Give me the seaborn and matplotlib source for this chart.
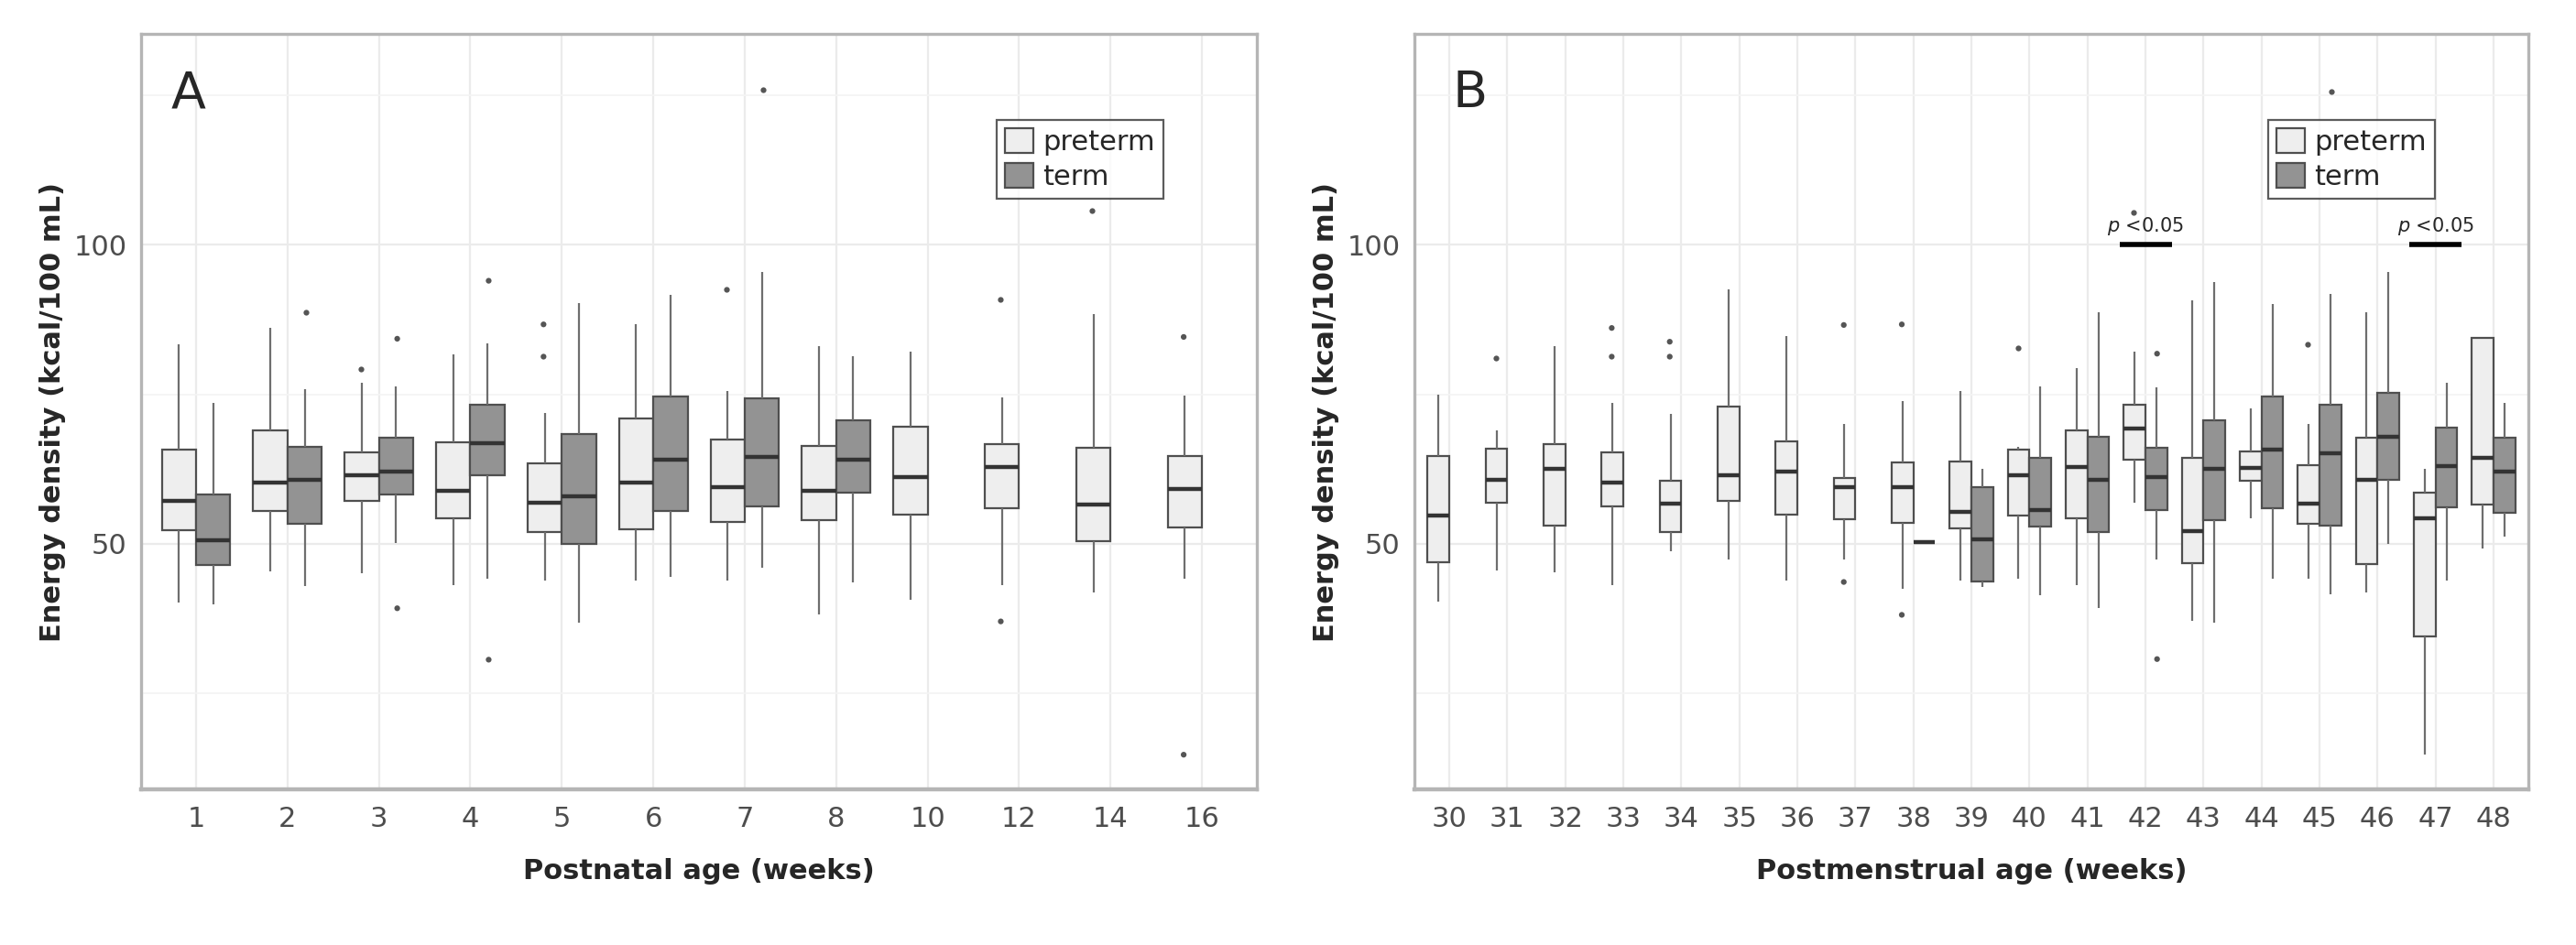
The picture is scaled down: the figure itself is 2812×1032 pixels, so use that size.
"""
Energy density of milk samples by age, preterm vs term.
Two panels of grouped box plots: (A) postnatal age, (B) postmenstrual age.
"""

import pandas as pd
import seaborn as sns
import matplotlib.pyplot as plt

GROUPS = ["preterm", "term"]

# Panel A: postnatal age (weeks); five-number summaries (min, q1, median, q3, max)
A_WEEKS = ["1", "2", "3", "4", "5", "6", "7", "8", "10", "12", "14", "16"]
A_PRETERM = [
    (40.1, 52.3, 57.1, 65.8, 83.3),
    (45.3, 55.5, 60.3, 69.0, 86.2),
    (45.0, 57.1, 61.5, 65.3, 77.0),
    (43.0, 54.3, 58.9, 66.9, 81.7),
    (43.8, 52.0, 56.8, 63.4, 71.8),
    (43.8, 52.4, 60.3, 70.9, 86.7),
    (43.8, 53.7, 59.4, 67.5, 75.6),
    (38.1, 53.9, 58.9, 66.3, 83.0),
    (40.6, 54.9, 61.1, 69.6, 82.1),
    (43.0, 56.0, 62.9, 66.6, 74.5),
    (41.9, 50.5, 56.6, 66.1, 88.5),
    (44.1, 52.8, 59.2, 64.7, 74.8),
]
A_TERM = [
    (39.8, 46.4, 50.6, 58.2, 73.5),
    (42.9, 53.3, 60.7, 66.2, 75.8),
    (50.1, 58.2, 62.1, 67.8, 76.3),
    (44.1, 61.4, 66.8, 73.2, 83.5),
    (36.8, 49.9, 58.0, 68.3, 90.2),
    (44.5, 55.5, 64.0, 74.6, 91.7),
    (46.0, 56.3, 64.5, 74.4, 95.5),
    (43.6, 58.5, 64.0, 70.6, 81.3),
    None, None, None, None,
]
A_OUT_PRETERM = {"3": [79.3], "5": [86.7, 81.3], "7": [92.6],
                 "12": [90.8, 37.0], "14": [105.7], "16": [84.6, 14.7]}
A_OUT_TERM = {"2": [88.7], "3": [84.3, 39.2], "4": [94.0, 30.6], "7": [125.9]}

# Panel B: postmenstrual age (weeks)
B_WEEKS = [str(w) for w in range(30, 49)]
B_PRETERM = [
    (40.3, 46.9, 54.7, 64.7, 75.0),
    (45.5, 56.8, 60.7, 65.9, 68.9),
    (45.2, 53.1, 62.6, 66.6, 83.1),
    (43.0, 56.2, 60.2, 65.3, 73.5),
    (48.8, 51.9, 56.7, 60.6, 71.7),
    (47.4, 57.1, 61.4, 73.0, 92.5),
    (43.8, 54.8, 62.0, 67.2, 84.8),
    (47.4, 54.1, 59.5, 61.0, 70.1),
    (42.4, 53.5, 59.5, 63.6, 73.9),
    (43.9, 52.5, 55.3, 63.8, 75.5),
    (44.1, 54.7, 61.4, 65.8, 66.2),
    (43.1, 54.2, 62.9, 68.9, 79.4),
    (56.8, 64.1, 69.2, 73.3, 82.2),
    (37.1, 46.8, 52.1, 64.3, 90.7),
    (54.2, 60.6, 62.7, 65.5, 72.6),
    (44.1, 53.3, 56.7, 63.1, 70.1),
    (41.8, 46.6, 60.7, 67.8, 88.7),
    (14.8, 34.5, 54.3, 58.5, 62.5),
    (49.2, 56.6, 64.4, 84.5, 84.5),
]
B_TERM = [
    None, None, None, None, None, None, None, None,
    (50.2, 50.2, 50.2, 50.2, 50.2),
    (42.7, 43.7, 50.8, 59.4, 62.6),
    (41.4, 52.9, 55.6, 64.3, 76.3),
    (39.3, 51.9, 60.7, 67.9, 88.7),
    (47.4, 55.7, 61.2, 66.0, 76.1),
    (36.8, 53.9, 62.5, 70.6, 93.8),
    (44.1, 55.9, 65.8, 74.6, 90.1),
    (41.5, 53.1, 65.1, 73.3, 91.8),
    (49.9, 60.7, 67.9, 75.2, 95.5),
    (43.9, 56.1, 63.0, 69.4, 76.9),
    (51.2, 55.2, 62.0, 67.8, 73.5),
]
B_OUT_PRETERM = {"31": [81.1], "33": [86.1, 81.3], "34": [83.8, 81.3],
                 "37": [86.6, 43.6], "38": [86.7, 38.1], "40": [82.8],
                 "42": [105.5], "45": [83.3]}
B_OUT_TERM = {"42": [81.8, 30.7], "45": [125.7]}
B_SIG_WEEKS = ["42", "47"]
SIG_LEVEL = 100

FILLS = {"preterm": "#eeeeee", "term": "#939393"}
EDGE = "#4f4f4f"
YLABEL = "Energy density (kcal/100 mL)"


def box_table(weeks, preterm, term):
    rows = []
    for week, pre, ter in zip(weeks, preterm, term):
        for group, stats in zip(GROUPS, (pre, ter)):
            if stats is None:
                continue
            for v in stats:
                rows.append({"week": week, "group": group, "value": v})
    return pd.DataFrame(rows)


def outlier_table(out_pre, out_term):
    rows = []
    for group, table in zip(GROUPS, (out_pre, out_term)):
        for week, values in table.items():
            for v in values:
                rows.append({"week": week, "group": group, "value": v})
    return pd.DataFrame(rows)


def draw_panel(ax, weeks, boxes, outliers, xlabel, letter, letter_x):
    sns.boxplot(data=boxes, x="week", y="value", hue="group", order=weeks,
                hue_order=GROUPS, palette=FILLS, width=0.75, whis=(0, 100),
                showfliers=False, showcaps=False, linecolor=EDGE,
                linewidth=1.6, whiskerprops={"color": "#6e6e6e"},
                medianprops={"color": "#333333", "linewidth": 3.2}, ax=ax)
    sns.stripplot(data=outliers, x="week", y="value", hue="group",
                  order=weeks, hue_order=GROUPS, dodge=True, jitter=False,
                  palette={g: "#555555" for g in GROUPS}, size=4.5,
                  linewidth=0, legend=False, ax=ax)
    n = len(weeks)
    ax.set_xlim(-0.6, n - 0.4)
    ax.set_ylim(8.9, 135.3)
    ax.set_yticks([50, 100])
    ax.set_yticks([25, 75, 125], minor=True)
    ax.set_axisbelow(True)
    ax.grid(True, which="major", axis="both", color="#ebebeb", lw=1.6)
    ax.grid(True, which="minor", axis="y", color="#f4f4f4", lw=1.2)
    ax.tick_params(axis="both", which="major", labelsize=22,
                   labelcolor="#4d4d4d", color="#9a9a9a", length=6, width=1.5)
    ax.tick_params(axis="x", pad=7)
    ax.tick_params(axis="y", pad=5)
    ax.tick_params(axis="y", which="minor", length=0)
    for side, spine in ax.spines.items():
        spine.set_visible(True)
        spine.set_color("#b5b5b5")
        spine.set_linewidth(3.2 if side == "bottom" else 2.4)
    ax.set_xlabel(xlabel, fontsize=22, fontweight="bold", labelpad=20)
    ax.set_ylabel(YLABEL, fontsize=22, fontweight="bold", labelpad=6)
    ax.text(letter_x, 0.921, letter, transform=ax.transAxes, fontsize=40,
            ha="left", va="center")
    sns.move_legend(ax, "upper right", bbox_to_anchor=(0.929, 0.905),
                    title=None, frameon=True, fontsize=22, handlelength=1.0,
                    handleheight=1.0, handletextpad=0.35, labelspacing=0.25,
                    borderpad=0.3, fancybox=False)
    frame = ax.get_legend().get_frame()
    frame.set_edgecolor("#333333")
    frame.set_linewidth(1.6)


def main():
    sns.set_style("white")
    plt.rcParams["font.family"] = ["DejaVu Sans"]
    fig = plt.figure(figsize=(28.12, 10.32), dpi=100)
    ax_a = fig.add_axes([0.0548, 0.1647, 0.4331, 0.7994])
    ax_b = fig.add_axes([0.5491, 0.1647, 0.4324, 0.7994])

    draw_panel(ax_a, A_WEEKS, box_table(A_WEEKS, A_PRETERM, A_TERM),
               outlier_table(A_OUT_PRETERM, A_OUT_TERM),
               "Postnatal age (weeks)", "A", 0.027)
    draw_panel(ax_b, B_WEEKS, box_table(B_WEEKS, B_PRETERM, B_TERM),
               outlier_table(B_OUT_PRETERM, B_OUT_TERM),
               "Postmenstrual age (weeks)", "B", 0.034)

    # significance markers
    for week in B_SIG_WEEKS:
        i = B_WEEKS.index(week)
        ax_b.plot([i - 0.45, i + 0.45], [SIG_LEVEL, SIG_LEVEL], color="black",
                  lw=4, solid_capstyle="butt")
        ax_b.text(i, SIG_LEVEL + 1.3, r"$p$ <0.05", ha="center", va="bottom",
                  fontsize=15)

    fig.savefig("out.png", dpi=100)


if __name__ == "__main__":
    main()
